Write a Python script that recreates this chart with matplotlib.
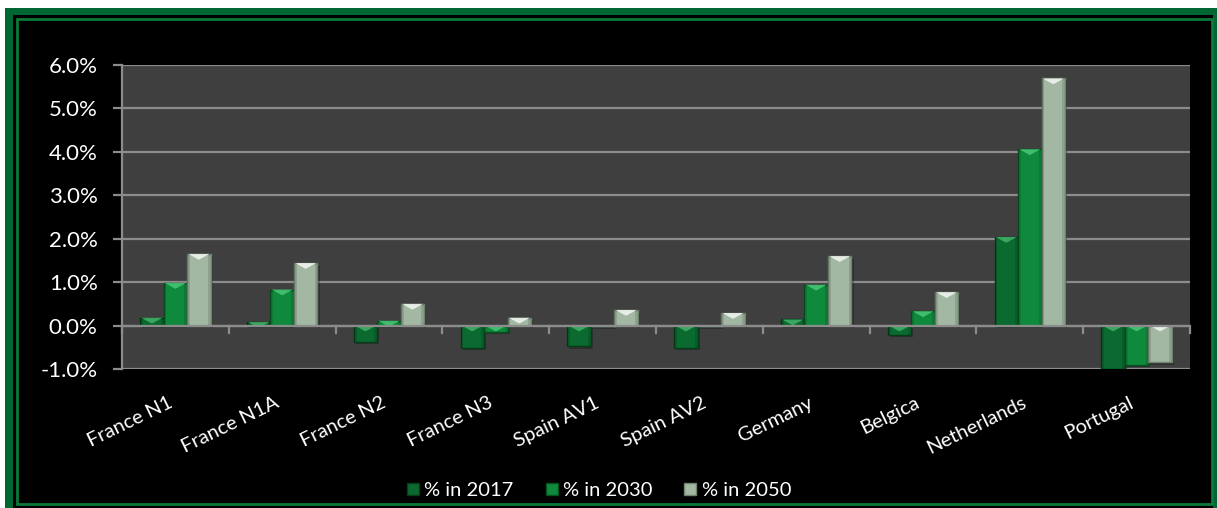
import matplotlib
matplotlib.use("Agg")
import matplotlib.pyplot as plt
import matplotlib.transforms as mtransforms
from matplotlib.patches import Rectangle, Polygon
from matplotlib.lines import Line2D
import numpy as np

categories = ["France N1", "France N1A", "France N2", "France N3", "Spain AV1",
              "Spain AV2", "Germany", "Belgica", "Netherlands", "Portugal"]
series_names = ["% in 2017", "% in 2030", "% in 2050"]
pct_2017 = [0.18, 0.08, -0.37, -0.51, -0.47, -0.51, 0.14, -0.21, 2.04, -1.00]
pct_2030 = [0.98, 0.83, 0.11, -0.14, -0.02, -0.02, 0.94, 0.33, 4.06, -0.90]
pct_2050 = [1.65, 1.44, 0.50, 0.18, 0.36, 0.29, 1.60, 0.77, 5.69, -0.84]
y_ticks = [-1.0, 0.0, 1.0, 2.0, 3.0, 4.0, 5.0, 6.0]

face_colors = ["#0b6a2f", "#0f8a3d", "#a3b8a3"]
edge_colors = ["#053d19", "#06521f", "#6f836f"]
hi_colors = ["#3fae66", "#45c474", "#eef4ee"]

plt.rcParams["font.family"] = ["Lato", "DejaVu Sans"]

W, H = 1217, 508
fig = plt.figure(figsize=(W / 100, H / 100), dpi=100, facecolor="white")

# black chart area with double green frame
fig.patches.append(Rectangle((5 / W, 0), (W - 5) / W, (H - 8) / H, transform=fig.transFigure,
                             facecolor="#006633", edgecolor="none", zorder=-3))
fig.patches.append(Rectangle((13 / W, 0), (W - 4 - 13) / W, (H - 15) / H, transform=fig.transFigure,
                             facecolor="black", edgecolor="none", zorder=-2))
fig.patches.append(Rectangle((17 / W, 4 / H), (1212 - 17) / W, (H - 19 - 4) / H,
                             transform=fig.transFigure, facecolor="none",
                             edgecolor="#0a7a3a", linewidth=2.0, zorder=-1))

left, right, top, bottom = 122, 1190, 65, 369
ax = fig.add_axes([left / W, (H - bottom) / H, (right - left) / W, (bottom - top) / H])
ax.set_zorder(3)
ax.set_facecolor("#3f3f3f")
ax.set_xlim(-0.5, len(categories) - 0.5)
ax.set_ylim(-1.0, 6.0)

grid_col = "#8c8c8c"
for y in y_ticks:
    ax.axhline(y, color=grid_col, linewidth=1.6, zorder=1)
for s in ["top", "right", "bottom"]:
    ax.spines[s].set_visible(False)
ax.spines["left"].set_color(grid_col)
ax.spines["left"].set_linewidth(1.6)

ax.set_yticks(y_ticks)
ax.set_yticklabels([f"{v:.1f}%" for v in y_ticks], color="white", fontsize=16)
ax.tick_params(axis="y", length=6.5, width=1.6, color=grid_col, pad=11)

x = np.arange(len(categories))
ax.set_xticks(x)
ax.set_xticklabels(categories, color="white", fontsize=14.5, rotation=26,
                   ha="right", va="top", rotation_mode="anchor")
ax.tick_params(axis="x", length=0, pad=18)
shift = mtransforms.ScaledTranslation(-8 / 100, 0, fig.dpi_scale_trans)
for lbl in ax.get_xticklabels():
    lbl.set_transform(lbl.get_transform() + shift)

# category tick marks on the zero line
tick_depth = 0.17
for b in np.arange(len(categories) + 1) - 0.5:
    ax.plot([b, b], [0, -tick_depth], color=grid_col, linewidth=1.6, zorder=2,
            clip_on=False)

bw = 0.22
series = [pct_2017, pct_2030, pct_2050]
for i, vals in enumerate(series):
    xs = x + (i - 1) * bw
    for xc, v in zip(xs, vals):
        x0, x1 = xc - bw / 2, xc + bw / 2
        lo, hi = min(0, v), max(0, v)
        # soft shadow
        ax.add_patch(Rectangle((x0 + 0.02, lo - 0.06), bw, hi - lo, facecolor="black",
                               alpha=0.25, edgecolor="none", zorder=2))
        ax.bar(xc, v, width=bw, color=face_colors[i], edgecolor=edge_colors[i],
               linewidth=1.0, zorder=3)
        # bevelled top
        depth = min(0.14, hi - lo)
        frac = depth / 0.14
        inset = (bw / 2) * frac * 0.95
        ax.add_patch(Polygon([(x0 + 0.01, hi), (x1 - 0.01, hi),
                              (x1 - 0.01 - inset, hi - depth), (x0 + 0.01 + inset, hi - depth)],
                             closed=True, facecolor=hi_colors[i], edgecolor="none",
                             alpha=0.9, zorder=4))
        # side shading
        ax.add_patch(Rectangle((x0, lo), bw * 0.12, hi - lo, facecolor="black",
                               alpha=0.12, edgecolor="none", zorder=4))
        ax.add_patch(Rectangle((x1 - bw * 0.12, lo), bw * 0.12, hi - lo, facecolor="black",
                               alpha=0.12, edgecolor="none", zorder=4))

ax.axhline(0, color=grid_col, linewidth=1.6, zorder=5)

handles = [Line2D([], [], marker="s", linestyle="none", markersize=8,
                  markerfacecolor=face_colors[i], markeredgecolor=edge_colors[i])
           for i in range(3)]
leg = fig.legend(handles, series_names, loc="center", bbox_to_anchor=(597 / W, (H - 490) / H),
                 ncol=3, frameon=False, fontsize=14.5, handletextpad=0.05, columnspacing=1.4,
                 handlelength=1.0)
for t in leg.get_texts():
    t.set_color("white")

fig.savefig("out.png", dpi=100, facecolor="white")
